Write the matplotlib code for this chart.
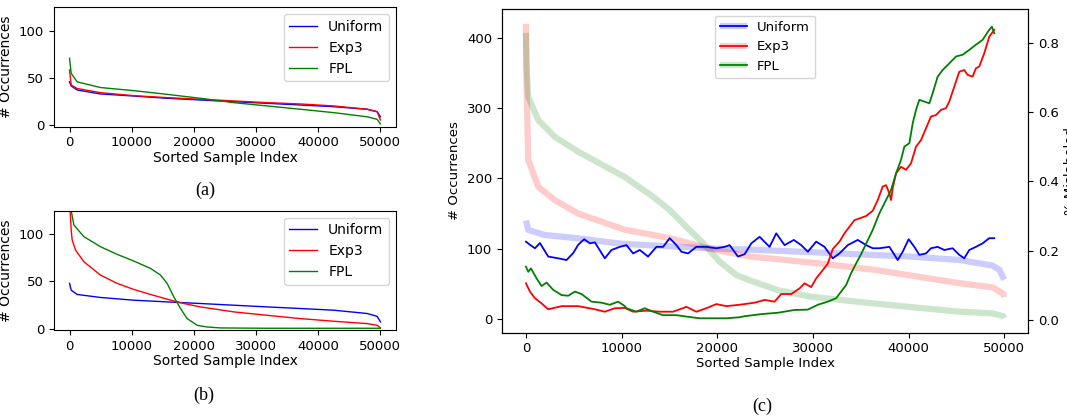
import matplotlib
matplotlib.use('Agg')
import matplotlib.pyplot as plt

# ---------------- Panel (a): sorted occurrence counts ----------------
a_uni_x = [0, 268, 1233, 4985, 10345, 15705, 21065, 26425, 31785, 37145, 42505, 47865, 49473, 50000]
a_uni_y = [46, 41.7, 37.4, 33.2, 31, 28.6, 26.8, 25, 23.3, 21.5, 19.7, 17, 14.4, 9]
a_exp_x = [0, 268, 1233, 4985, 10345, 15705, 21065, 26425, 31785, 37145, 42505, 47865, 49473, 50000]
a_exp_y = [58.6, 42.7, 39, 34.6, 31.4, 29.3, 27.6, 25.8, 24, 22.6, 20.5, 17, 14.4, 5.6]
a_fpl_x = [0, 268, 1233, 4985, 10345, 15705, 21065, 26425, 31785, 37145, 42505, 47865, 49473, 50000]
a_fpl_y = [71, 55, 46, 40, 36.7, 32.8, 28.6, 24, 20.5, 17, 13.4, 9, 6.3, 1.4]

# ---------------- Panel (b): sorted occurrence counts ----------------
b_uni_x = [0, 268, 1233, 4985, 10345, 15705, 21065, 26425, 31785, 37145, 42505, 47865, 49473, 50000]
b_uni_y = [47.9, 40.7, 36.2, 33, 30.1, 28.3, 26.6, 24.8, 23, 21.3, 19.5, 16, 13, 7.1]
b_exp_x = [0, 100, 268, 429, 965, 2305, 4985, 7665, 10345, 13025, 15705, 18385, 21065,
           26425, 31785, 37145, 42505, 47865, 49473, 50000]
b_exp_y = [150, 125, 104, 93.9, 83.3, 70.9, 56.7, 47.9, 41.5, 36.2, 31.2, 26.6, 23,
           17.7, 14.1, 10.6, 7.8, 5.3, 3.5, 0.7]
b_fpl_x = [0, 268, 697, 2305, 4985, 7665, 10345, 13025, 14633, 15705, 16777, 17849, 18921,
           20529, 22137, 24281, 31785, 50000]
b_fpl_y = [170, 125, 109.9, 97.5, 86.8, 78.7, 71.6, 63.8, 56.7, 47.9, 33.6, 21.3, 10.6,
           3.5, 1.7, 0.7, 0.35, 0.35]

# ---------------- Panel (c): sorted counts (left axis) ----------------
c_uni_cnt_x = [0, 243, 1980, 5460, 10000, 20000, 22864, 30000, 34870, 36436, 40000, 45310, 48786, 49500, 50000]
c_uni_cnt_y = [140, 126.6, 119.5, 114.8, 107, 100, 99, 95, 92, 91, 89, 84, 76, 70, 56]
c_exp_cnt_x = [0, 70, 243, 1290, 3030, 5460, 10336, 15034, 19907, 23386, 30000, 36436, 45310, 48786, 49900, 50000]
c_exp_cnt_y = [420, 330, 226, 188, 169, 150, 127, 115, 98, 89, 80, 70, 51, 45, 36, 31]
c_fpl_cnt_x = [0, 60, 243, 1290, 3030, 5460, 10336, 13290, 15034, 16776, 18517, 20254, 21997,
               23386, 26340, 29830, 36436, 45310, 48786, 49900, 50000]
c_fpl_cnt_y = [407, 360, 316, 283, 259, 238, 202, 174, 155, 131, 108, 81.5, 62.6,
               55, 41, 31.7, 22, 10.4, 8, 4, 1]

# ---------------- Panel (c): fraction mislabeled (right axis) ----------------
c_uni_mis_x = [0, 418, 940, 1462, 2332, 3375, 4245, 4941, 5463, 6090, 6682, 7204, 8248, 8944,
               9814, 10510, 11206, 11902, 12772, 13642, 14338, 15034, 15730, 16252, 16948,
               17818, 18862, 19906, 20776, 21298, 22168, 22864, 23560, 24430, 25474, 26170,
               27040, 28013, 28780, 29476, 30345, 31216, 32085, 32781, 33652, 34696, 35566,
               36262, 36958, 38002, 38870, 39393, 40019, 40612, 41134, 41830, 42352, 43048,
               43744, 44614, 45310, 45832, 46354, 47050, 47745, 48442, 48964]
c_uni_mis_y = [0.226, 0.217, 0.207, 0.222, 0.183, 0.178, 0.173, 0.193, 0.217, 0.233, 0.221,
               0.224, 0.178, 0.202, 0.211, 0.216, 0.192, 0.202, 0.183, 0.211, 0.211, 0.236,
               0.216, 0.197, 0.192, 0.211, 0.211, 0.207, 0.211, 0.216, 0.183, 0.190, 0.221,
               0.240, 0.211, 0.250, 0.216, 0.231, 0.216, 0.197, 0.226, 0.211, 0.178, 0.192,
               0.216, 0.231, 0.216, 0.207, 0.207, 0.211, 0.173, 0.197, 0.233, 0.211, 0.188,
               0.192, 0.207, 0.211, 0.202, 0.207, 0.188, 0.178, 0.202, 0.211, 0.221, 0.236,
               0.236]
c_exp_mis_x = [0, 418, 940, 1636, 2332, 3723, 5463, 7204, 8248, 9292, 10336, 11206, 12598,
               13990, 15382, 16774, 17818, 18862, 19906, 20950, 21994, 22864, 23908, 24952,
               25996, 26692, 27736, 28606, 29128, 29824, 30346, 31042, 31564, 32086, 32782,
               33304, 33826, 34348, 34870, 35566, 36262, 36784, 37306, 37654, 38002, 38176,
               38350, 38698, 39220, 39742, 40264, 40786, 41308, 41830, 42352, 42874, 43396,
               43918, 44266, 44788, 45310, 45832, 46180, 46702, 47050, 47398, 47920, 48442,
               48964]
c_exp_mis_y = [0.106, 0.082, 0.063, 0.048, 0.031, 0.040, 0.040, 0.031, 0.024, 0.034, 0.035,
               0.024, 0.027, 0.024, 0.024, 0.038, 0.024, 0.034, 0.046, 0.040, 0.043, 0.046,
               0.050, 0.058, 0.053, 0.075, 0.075, 0.091, 0.106, 0.095, 0.120, 0.144, 0.163,
               0.205, 0.226, 0.250, 0.269, 0.288, 0.293, 0.300, 0.315, 0.346, 0.385, 0.389,
               0.365, 0.346, 0.380, 0.423, 0.442, 0.433, 0.452, 0.500, 0.519, 0.553, 0.587,
               0.591, 0.606, 0.611, 0.630, 0.673, 0.716, 0.721, 0.707, 0.702, 0.726, 0.731,
               0.769, 0.817, 0.837]
c_fpl_mis_x = [0, 244, 522, 1114, 1636, 2158, 2854, 3723, 4420, 5116, 5812, 6856, 7900, 8770,
               9640, 10336, 10510, 11554, 12424, 13294, 14338, 15730, 16774, 18166, 19558,
               20950, 22342, 22864, 24604, 26344, 28084, 29476, 30520, 31564, 32434, 32956,
               33478, 34000, 34522, 35044, 35566, 36262, 36958, 37654, 38176, 38698, 39220,
               39568, 40090, 40438, 40786, 41134, 41656, 42178, 42526, 43048, 43570, 44266,
               44962, 45658, 46354, 47050, 47746, 48442, 48720, 48964]
c_fpl_mis_y = [0.154, 0.139, 0.149, 0.120, 0.098, 0.108, 0.087, 0.072, 0.070, 0.082, 0.075,
               0.053, 0.050, 0.044, 0.053, 0.040, 0.034, 0.024, 0.034, 0.024, 0.014, 0.014,
               0.010, 0.005, 0.005, 0.005, 0.008, 0.011, 0.017, 0.021, 0.029, 0.030, 0.044,
               0.053, 0.063, 0.082, 0.101, 0.135, 0.163, 0.190, 0.220, 0.260, 0.308, 0.346,
               0.375, 0.423, 0.462, 0.500, 0.510, 0.567, 0.606, 0.635, 0.630, 0.625, 0.654,
               0.702, 0.721, 0.740, 0.760, 0.765, 0.779, 0.794, 0.808, 0.837, 0.846, 0.827]

labels = ['Uniform', 'Exp3', 'FPL']
colors = ['blue', 'red', 'green']

fig = plt.figure(figsize=(10.67, 4.16), dpi=100)

def left_panel(rect, series):
    ax = fig.add_axes(rect)
    for (x, y), lab, col in zip(series, labels, colors):
        ax.plot(x, y, color=col, lw=1.0, label=lab)
    ax.set_ylim(-1.5, 125)
    ax.set_xlim(-2500, 52500)
    ax.set_xticks([0, 10000, 20000, 30000, 40000, 50000])
    ax.set_yticks([0, 50, 100])
    ax.tick_params(labelsize=9.5)
    ax.set_xlabel('Sorted Sample Index', fontsize=10, labelpad=1)
    ax.set_ylabel('# Occurrences', fontsize=10)
    ax.legend(loc='upper right', fontsize=10)
    return ax

left_panel([0.0506, 0.6954, 0.3205, 0.287],
           [(a_uni_x, a_uni_y), (a_exp_x, a_exp_y), (a_fpl_x, a_fpl_y)])
left_panel([0.0506, 0.2067, 0.3205, 0.2868],
           [(b_uni_x, b_uni_y), (b_exp_x, b_exp_y), (b_fpl_x, b_fpl_y)])

ax = fig.add_axes([0.4705, 0.2002, 0.4930, 0.7782])
ax2 = ax.twinx()
handles = []
cnt = [(c_uni_cnt_x, c_uni_cnt_y), (c_exp_cnt_x, c_exp_cnt_y), (c_fpl_cnt_x, c_fpl_cnt_y)]
mis = [(c_uni_mis_x, c_uni_mis_y), (c_exp_mis_x, c_exp_mis_y), (c_fpl_mis_x, c_fpl_mis_y)]
for (cx, cy), (mx, my), col in zip(cnt, mis, colors):
    h1, = ax.plot(cx, cy, color=col, lw=4.5, alpha=0.2, solid_capstyle='butt')
    h2, = ax2.plot(mx, my, color=col, lw=1.3)
    handles.append((h1, h2))
ax.set_xlim(-2500, 52500)
ax.set_ylim(-19.5, 441)
ax2.set_ylim(-0.0366, 0.897)
ax.set_xticks([0, 10000, 20000, 30000, 40000, 50000])
ax.set_yticks([0, 100, 200, 300, 400])
ax2.set_yticks([0.0, 0.2, 0.4, 0.6, 0.8])
ax.tick_params(labelsize=9.5)
ax2.tick_params(labelsize=9.5)
ax.set_xlabel('Sorted Sample Index', fontsize=9.5, labelpad=1)
ax.set_ylabel('# Occurrences', fontsize=9.5)
ax2.set_ylabel('% Mislabeled', fontsize=9.5)
ax2.legend(handles, labels, loc='upper center', fontsize=9.5)

serif = ['Liberation Serif', 'DejaVu Serif']
fig.text(205 / 1067, 1 - 190 / 416, '(a)', ha='center', va='center', fontsize=13, family=serif)
fig.text(204 / 1067, 1 - 395 / 416, '(b)', ha='center', va='center', fontsize=13, family=serif)
fig.text(762 / 1067, 1 - 406 / 416, '(c)', ha='center', va='center', fontsize=13, family=serif)

fig.savefig('out.png', dpi=100)
